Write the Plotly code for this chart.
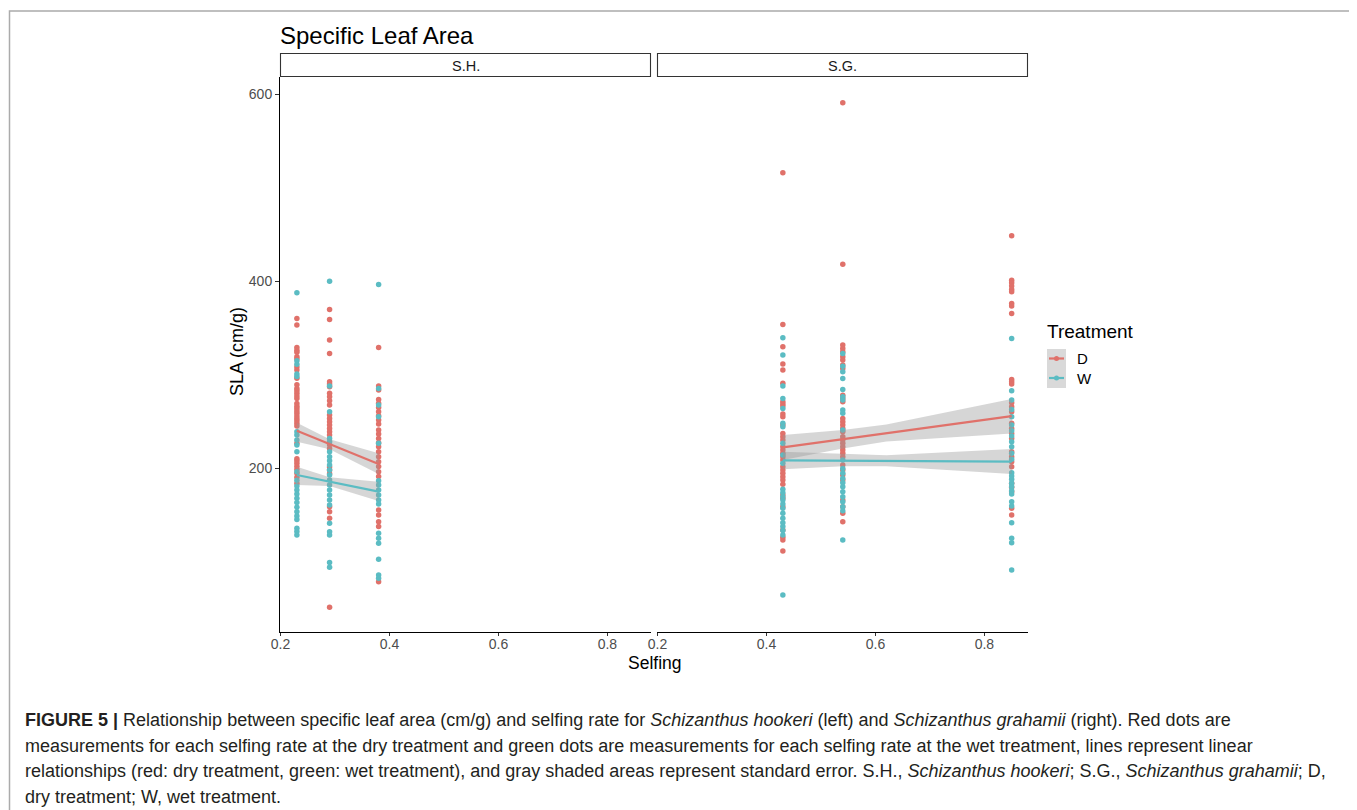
import plotly.graph_objects as go

# ---------------- data ----------------
sh_x = [0.23, 0.29, 0.38]
sg_x = [0.43, 0.54, 0.85]

# S.H. dry (D)
sh_d_023 = [360, 353, 329, 326, 324, 319, 317, 308, 305, 296, 289, 285, 282.7, 279.9, 277, 274.5,
            269, 266, 263.8, 261, 258.5, 255.6, 253, 250.6, 247.8, 245, 226.4, 210, 207.8, 205, 202,
            198.6, 194.3, 190, 183.6]
sh_d_029 = [369.7, 359, 337, 322.6, 292.3, 289.8, 287, 279.9, 276.3, 272, 267.4, 256.7, 253, 249.5,
            246, 242.4, 238.9, 235.3, 225, 221, 201, 198, 194, 158.6, 153.3, 146.2, 51]
sh_d_038 = [329, 287.7, 283.4, 273.4, 269.2, 264.9, 260.2, 256, 251.3, 247.1, 240.6, 236.4, 231.7,
            227, 222.8, 217.5, 212.1, 206.8, 201.5, 196, 191, 155.1, 149.7, 142.6, 137.3, 78.4]
# S.H. wet (W)
sh_w_023 = [387.5, 314.8, 311, 300.5, 298, 238.9, 235.3, 230, 224.6, 217.5, 196, 187, 180.7, 176.5,
            172.2, 167.6, 163, 158, 153.3, 148.7, 145, 135.5, 132, 128.3]
sh_w_029 = [400, 287.7, 260.2, 231.7, 228.2, 217.5, 212.1, 207.8, 203.2, 197.9, 192.5, 187.2, 181.8,
            176.5, 171.1, 165.8, 160.4, 140.8, 131.9, 128.3, 98.8, 93.8]
sh_w_038 = [396.4, 285.2, 267.4, 254.9, 226.4, 186.5, 181.8, 176.5, 171.1, 165.8, 161.5, 130.1,
            124.8, 119.4, 102.3, 85.6, 82]

# S.G. dry (D)
sg_d_043 = [515.9, 353.7, 329.8, 311.2, 304.8, 290.6, 270.9, 268.4, 266.3, 257.8, 254.9, 246, 237,
            233.5, 229.9, 222.8, 219.3, 215.7, 212.1, 208.6, 201.4, 197.9, 194.3, 190.7, 187.2,
            182.5, 171.1, 167.6, 158.6, 133.7, 125.8, 123, 111.2]
sg_d_054 = [591, 418.2, 331.6, 328, 324.4, 319.1, 315.5, 310.2, 306.6, 278, 274.5, 270.9, 253.1,
            249.6, 246, 242.4, 238.9, 233.5, 229.9, 226.4, 222.8, 219.3, 215.7, 212.1, 203.2, 197.9,
            192.5, 187.2, 165.8, 158.6, 151.5, 142.6]
sg_d_085 = [448.5, 401.1, 398.2, 394.7, 391.1, 388.6, 376.1, 373.3, 365.4, 294.8, 292.3, 289.8,
            269.9, 265.6, 260.2, 247.8, 242.4, 237, 231.7, 217.5, 212.1, 206.8, 201.4, 183.6, 179.3,
            174.7, 156.9, 149.7]
# S.G. wet (W)
sg_w_043 = [339.4, 320.9, 287.7, 274.5, 263.8, 247.8, 244.2, 226.4, 213.9, 205, 177.2, 173.6, 169.3,
            165.8, 161.5, 156.9, 151.5, 146.2, 141.5, 137.3, 133, 128.3, 64.2]
sg_w_054 = [322.6, 309, 303, 295.9, 284.1, 276.3, 272.7, 262, 258.5, 240.6, 208.6, 199.6, 194.3,
            188.9, 184.3, 180, 174.7, 169.3, 164, 158.6, 154.4, 123]
sg_w_085 = [338.7, 282.7, 272.7, 262.7, 254.9, 246, 239.9, 234.2, 228.2, 222.8, 215.7, 209.3, 195,
            191.4, 187.9, 183.6, 180, 175.8, 172.2, 164, 159.4, 141.5, 124.8, 120.1, 90.9]

# linear fits with standard-error bands
sh_fit_x = [0.23, 0.29, 0.38]
sh_d_fit = [239.9, 225.5, 204.3]
sh_d_lo = [228.1, 220.0, 193.6]
sh_d_hi = [248.5, 230.7, 215.7]
sh_w_fit = [192.5, 185.4, 174.7]
sh_w_lo = [181.8, 180.7, 164.7]
sh_w_hi = [201.4, 190.0, 185.4]

sg_fit_x = [0.43, 0.54, 0.62, 0.85]
sg_d_fit = [222.1, 230.9, 237.3, 255.6]
sg_d_lo = [208.6, 221.0, 228.5, 237.0]
sg_d_hi = [235.3, 240.6, 246.5, 273.8]
sg_w_fit = [208.2, 207.9, 207.6, 206.8]
sg_w_lo = [198.6, 202.0, 201.8, 193.6]
sg_w_hi = [217.5, 215.0, 213.6, 220.3]

x_ticks = [0.2, 0.4, 0.6, 0.8]
y_ticks = [200, 400, 600]

# ---------------- styling ----------------
RED = "#E0716A"
CYAN = "#5BBCC3"
BAND = "rgba(153,153,153,0.4)"
FONT = "Liberation Sans, Arial, sans-serif"

OFF = 8  # the page body margin shifts the figure by 8 px
W, H = 1357, 810
# desired page pixel positions of the plotting area
PL, PR, PT, PB = 280, 1028, 53, 632
L, R, T, B = PL - OFF, PR - OFF, PT - OFF, PB - OFF


def px(xp):
    """page x pixel -> paper coordinate"""
    return (xp - OFF - L) / (R - L)


def py(yp):
    """page y pixel -> paper coordinate"""
    return (B - (yp - OFF)) / (B - T)


fig = go.Figure()


def add_points(xv, vals, color, xa, ya):
    fig.add_trace(go.Scatter(x=[xv] * len(vals), y=vals, mode="markers",
                             marker=dict(color=color, size=5.5, line=dict(width=0)),
                             xaxis=xa, yaxis=ya, showlegend=False, hoverinfo="y"))


for xv, d, w in zip(sh_x, [sh_d_023, sh_d_029, sh_d_038], [sh_w_023, sh_w_029, sh_w_038]):
    add_points(xv, d, RED, "x", "y")
    add_points(xv, w, CYAN, "x", "y")
for xv, d, w in zip(sg_x, [sg_d_043, sg_d_054, sg_d_085], [sg_w_043, sg_w_054, sg_w_085]):
    add_points(xv, d, RED, "x2", "y2")
    add_points(xv, w, CYAN, "x2", "y2")


def add_fit(xs, fit, lo, hi, color, xa, ya):
    fig.add_trace(go.Scatter(x=xs + xs[::-1], y=hi + lo[::-1], fill="toself", fillcolor=BAND,
                             line=dict(width=0), mode="lines", xaxis=xa, yaxis=ya,
                             showlegend=False, hoverinfo="skip"))
    fig.add_trace(go.Scatter(x=xs, y=fit, mode="lines", line=dict(color=color, width=2.2),
                             xaxis=xa, yaxis=ya, showlegend=False, hoverinfo="skip"))


add_fit(sh_fit_x, sh_d_fit, sh_d_lo, sh_d_hi, RED, "x", "y")
add_fit(sh_fit_x, sh_w_fit, sh_w_lo, sh_w_hi, CYAN, "x", "y")
add_fit(sg_fit_x, sg_d_fit, sg_d_lo, sg_d_hi, RED, "x2", "y2")
add_fit(sg_fit_x, sg_w_fit, sg_w_lo, sg_w_hi, CYAN, "x2", "y2")

xr = [0.199, 0.880]
yr = [24.5, 618.5]
ytop = py(77)
xd1 = [0, px(651)]
xd2 = [px(657), 1]

axis_common = dict(range=xr, tickvals=x_ticks, ticktext=[f"{v:.1f}" for v in x_ticks],
                   showgrid=False, zeroline=False, showline=True, linecolor="#000000",
                   linewidth=1, ticks="outside", ticklen=3, tickcolor="#333333", tickwidth=1,
                   ticklabelstandoff=-4,
                   tickfont=dict(family=FONT, size=14, color="#4D4D4D"))

fig.update_layout(
    width=W, height=H,
    margin=dict(l=L, r=W - R, t=T, b=H - B, pad=0),
    paper_bgcolor="white", plot_bgcolor="white",
    xaxis=dict(domain=xd1, anchor="y", **axis_common),
    xaxis2=dict(domain=xd2, anchor="y2", **axis_common),
    yaxis=dict(domain=[0, ytop], range=yr, anchor="x", tickvals=y_ticks,
               showgrid=False, zeroline=False, showline=True, linecolor="#000000", linewidth=1,
               ticks="outside", ticklen=4, tickcolor="#333333", tickwidth=1,
               tickfont=dict(family=FONT, size=14, color="#4D4D4D")),
    yaxis2=dict(domain=[0, ytop], range=yr, anchor="x2", showgrid=False, zeroline=False,
                showline=False, showticklabels=False, ticks=""),
    showlegend=False,
    font=dict(family=FONT),
)

shapes = []
annotations = []

# outer border
shapes.append(dict(type="rect", xref="paper", yref="paper", x0=px(9.5), x1=px(1352.5), y0=py(830),
                   y1=py(11), line=dict(color="#ABABAB", width=1.5), fillcolor="rgba(0,0,0,0)",
                   layer="below"))

# facet strips
for (x0, x1), lab in [((280, 651), "S.H."), ((657, 1028), "S.G.")]:
    shapes.append(dict(type="rect", xref="paper", yref="paper", x0=px(x0 + 0.5), x1=px(x1 - 0.5),
                       y0=py(76.5), y1=py(53.5), line=dict(color="#333333", width=1.1),
                       fillcolor="white"))
    annotations.append(dict(text=lab, xref="paper", yref="paper", x=px((x0 + x1) / 2), y=py(65.5),
                            showarrow=False, xanchor="center", yanchor="middle",
                            font=dict(family=FONT, size=14.5, color="#1A1A1A")))

# title and axis titles
annotations.append(dict(text="Specific Leaf Area", xref="paper", yref="paper", x=px(278), y=py(36),
                        showarrow=False, xanchor="left", yanchor="middle",
                        font=dict(family=FONT, size=24, color="#000000")))
annotations.append(dict(text="Selfing", xref="paper", yref="paper", x=px(655), y=py(663),
                        showarrow=False, xanchor="center", yanchor="middle",
                        font=dict(family=FONT, size=17.5, color="#000000")))
annotations.append(dict(text="SLA (cm/g)", xref="paper", yref="paper", x=px(237), y=py(352),
                        showarrow=False, xanchor="center", yanchor="middle", textangle=-90,
                        font=dict(family=FONT, size=18, color="#000000")))

# manual legend
annotations.append(dict(text="Treatment", xref="paper", yref="paper", x=px(1045), y=py(331),
                        showarrow=False, xanchor="left", yanchor="middle",
                        font=dict(family=FONT, size=19, color="#000000")))
shapes.append(dict(type="rect", xref="paper", yref="paper", x0=px(1047), x1=px(1066), y0=py(388),
                   y1=py(349), line=dict(width=0), fillcolor="#D9D9D9"))
for yc, col, lab in [(358.5, RED, "D"), (378, CYAN, "W")]:
    shapes.append(dict(type="line", xref="paper", yref="paper", x0=px(1049), x1=px(1064),
                       y0=py(yc), y1=py(yc), line=dict(color=col, width=2.2)))
    shapes.append(dict(type="circle", xref="paper", yref="paper", x0=px(1054), x1=px(1059),
                       y0=py(yc + 2.5), y1=py(yc - 2.5), line=dict(width=0), fillcolor=col))
    annotations.append(dict(text=lab, xref="paper", yref="paper", x=px(1075), y=py(yc),
                            showarrow=False, xanchor="left", yanchor="middle",
                            font=dict(family=FONT, size=15, color="#000000")))

# caption
caption = [
    "<b>FIGURE 5 |</b> Relationship between specific leaf area (cm/g) and selfing rate for "
    "<i>Schizanthus hookeri</i> (left) and <i>Schizanthus grahamii</i> (right). Red dots are",
    "measurements for each selfing rate at the dry treatment and green dots are measurements for "
    "each selfing rate at the wet treatment, lines represent linear",
    "relationships (red: dry treatment, green: wet treatment), and gray shaded areas represent "
    "standard error. S.H., <i>Schizanthus hookeri</i>; S.G., <i>Schizanthus grahamii</i>; D,",
    "dry treatment; W, wet treatment.",
]
for i, line in enumerate(caption):
    annotations.append(dict(text=line, xref="paper", yref="paper", x=px(23), y=py(720 + 25.7 * i),
                            showarrow=False, xanchor="left", yanchor="middle",
                            font=dict(family=FONT, size=18, color="#231F20")))

fig.update_layout(shapes=shapes, annotations=annotations)
fig.write_html("out.html")
